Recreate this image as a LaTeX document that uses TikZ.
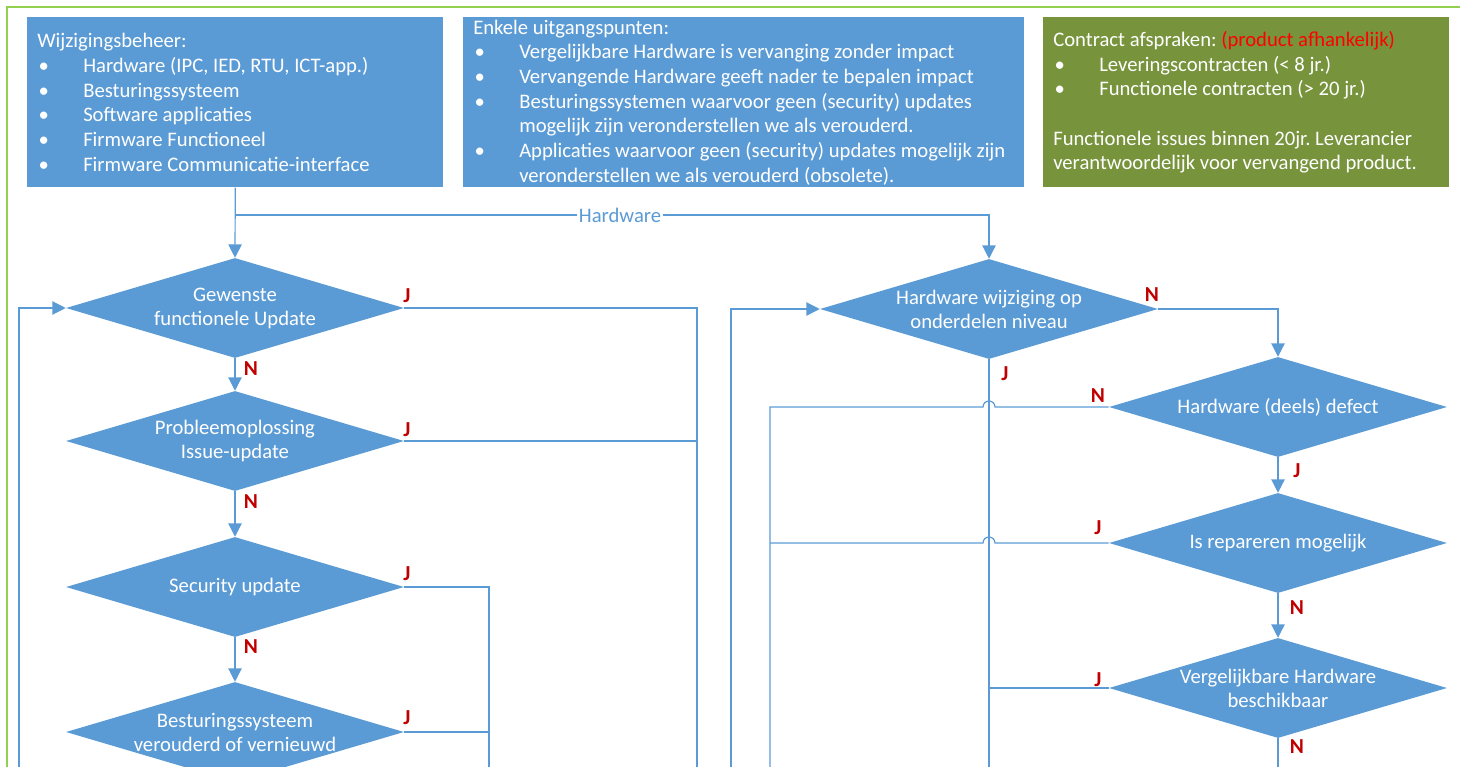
\documentclass[tikz,border=0pt]{standalone}
\usepackage{fontspec}
\setmainfont{Carlito}
\usetikzlibrary{shapes.geometric,arrows.meta}
\definecolor{vlak}{HTML}{5B9BD5}
\definecolor{olijf}{HTML}{77933C}
\definecolor{kader}{HTML}{92D050}
\definecolor{jn}{HTML}{C00000}
\frenchspacing
\newcommand{\punt}{\par\hangindent=34.5pt\hangafter=1\noindent\makebox[34.5pt][l]{\hspace{1pt}\textbullet}}
\tikzset{
  kaart/.style={fill=vlak, text=white, align=flush left, anchor=north west, inner xsep=7.5pt, inner ysep=0pt, minimum height=127.5pt, font=\fontsize{15.5}{18.5}\selectfont},
  beslis/.style={diamond, fill=vlak, inner sep=0pt, minimum width=253.5pt, minimum height=75pt},
  btekst/.style={text=white, align=center, font=\fontsize{15.5}{18}\selectfont},
  jnlabel/.style={text=jn, font=\fontsize{16}{18}\selectfont\bfseries},
  lijn/.style={draw=vlak, line width=0.9pt},
  pijl/.style={lijn, -{Triangle[length=10pt,width=10pt]}}
}
\begin{document}
\begin{tikzpicture}[x=0.75pt, y=-0.75pt]
\useasboundingbox (0,0) rectangle (1460,767);
\clip (0,0) rectangle (1460,767);
\draw[kader, line width=1.3pt] (7,7) rectangle (1490,800);

% kaarten
\node[kaart, text width=297pt] (wb) at (27,17) {Wijzigingsbeheer:
\punt Hardware (IPC, IED, RTU, ICT-app.)
\punt Besturingssysteem
\punt Software applicaties
\punt Firmware Functioneel
\punt Firmware Communicatie-interface\par};
\node[kaart, text width=405.75pt] (up) at (463,17) {Enkele uitgangspunten:
\punt Vergelijkbare Hardware is vervanging zonder impact
\punt Vervangende Hardware geeft nader te bepalen impact
\punt Besturingssystemen waarvoor geen (security) updates\newline mogelijk zijn veronderstellen we als verouderd.
\punt Applicaties waarvoor geen (security) updates mogelijk zijn\newline veronderstellen we als verouderd (obsolete).\par};
\node[kaart, fill=olijf, text width=289.5pt] (ca) at (1043,17) {Contract afspraken: \textcolor{red}{(product afhankelijk)}
\punt Leveringscontracten (< 8 jr.)
\punt Functionele contracten (> 20 jr.)
\par\vspace{18.5pt}\noindent Functionele issues binnen 20jr. Leverancier\newline verantwoordelijk voor vervangend product.\par};

% beslissingen links
\node[beslis] (d1) at (235,308) {};
\node[beslis] (d2) at (235,441) {};
\node[beslis] (d3) at (235,587) {};
\node[beslis] (d4) at (235,732) {};
\node[btekst] (t1) at (d1) {Gewenste\\functionele Update};
\node[btekst] (t2) at (d2) {Probleemoplossing\\Issue-update};
\node[btekst] (t3) at (d3) {Security update};
\node[btekst] (t4) at (d4) {Besturingssysteem\\verouderd of vernieuwd};

% beslissingen rechts
\node[beslis] (d5) at (989,309) {};
\node[beslis] (d6) at (1278,407) {};
\node[beslis] (d7) at (1278,543) {};
\node[beslis] (d8) at (1278,688) {};
\node[btekst] (t5) at (d5) {Hardware wijziging op\\onderdelen niveau};
\node[btekst] (t6) at (d6) {Hardware (deels) defect};
\node[btekst] (t7) at (d7) {Is repareren mogelijk};
\node[btekst] (t8) at (d8) {Vergelijkbare Hardware\\beschikbaar};

\node[fill=white, inner sep=1pt, text=vlak, font=\fontsize{15.5}{18}\selectfont] (hw) at (620,215) {Hardware};

% eindpunten onder de rand
\coordinate (lus1) at (19,790);
\coordinate (kol2) at (489,790);
\coordinate (kol1) at (697,790);
\coordinate (lus2) at (731,790);
\coordinate (ond) at (770,790);
\coordinate (hwo) at (989,790);
\coordinate (vgl) at (1278,790);

\draw[pijl] (wb.south) -- (d1.north);
\draw[lijn] (wb.south |- hw) -- (hw.west);
\draw[pijl] (hw.east) -| (d5.north);

\draw[pijl] (d1.south) -- (d2.north);
\draw[pijl] (d2.south) -- (d3.north);
\draw[pijl] (d3.south) -- (d4.north);
\draw[lijn] (d1.east) -| (kol1);
\draw[lijn] (d2.east) -- (d2.east -| kol1);
\draw[lijn] (d3.east) -| (kol2);
\draw[lijn] (d4.east) -- (d4.east -| kol2);
\draw[pijl] (lus1) |- (d1.west);

\draw[pijl] (d5.east) -| (d6.north);
\draw[pijl] (d6.south) -- (d7.north);
\draw[pijl] (d7.south) -- (d8.north);
\draw[lijn] (d5.south) -- (hwo);
\draw[lijn] (d6.west) -- ([xshift=4.5pt]d6.west -| d5.south) arc[start angle=0, end angle=-180, radius=6] -- (d6.west -| ond) -- (ond);
\draw[lijn] (d7.west) -- ([xshift=4.5pt]d7.west -| d5.south) arc[start angle=0, end angle=-180, radius=6] -- (d7.west -| ond);
\draw[lijn] (d8.west) -- (d8.west -| d5.south);
\draw[lijn] (d8.south) -- (vgl);
\draw[pijl] (lus2) |- (d5.west);

% J / N
\node[jnlabel] (j1) at (407,296) {J};
\node[jnlabel] (n1) at (251,369) {N};
\node[jnlabel] (j2) at (407,430) {J};
\node[jnlabel] (n2) at (251,502) {N};
\node[jnlabel] (j3) at (407,574) {J};
\node[jnlabel] (n3) at (251,647) {N};
\node[jnlabel] (j4) at (407,718) {J};
\node[jnlabel] (n5) at (1152,295) {N};
\node[jnlabel] (j5) at (1005,374) {J};
\node[jnlabel] (n6) at (1098,396) {N};
\node[jnlabel] (j6) at (1297,471) {J};
\node[jnlabel] (j7) at (1098,528) {J};
\node[jnlabel] (n7) at (1297,608) {N};
\node[jnlabel] (j8) at (1098,680) {J};
\node[jnlabel] (n8) at (1297,747) {N};
\end{tikzpicture}
\end{document}
